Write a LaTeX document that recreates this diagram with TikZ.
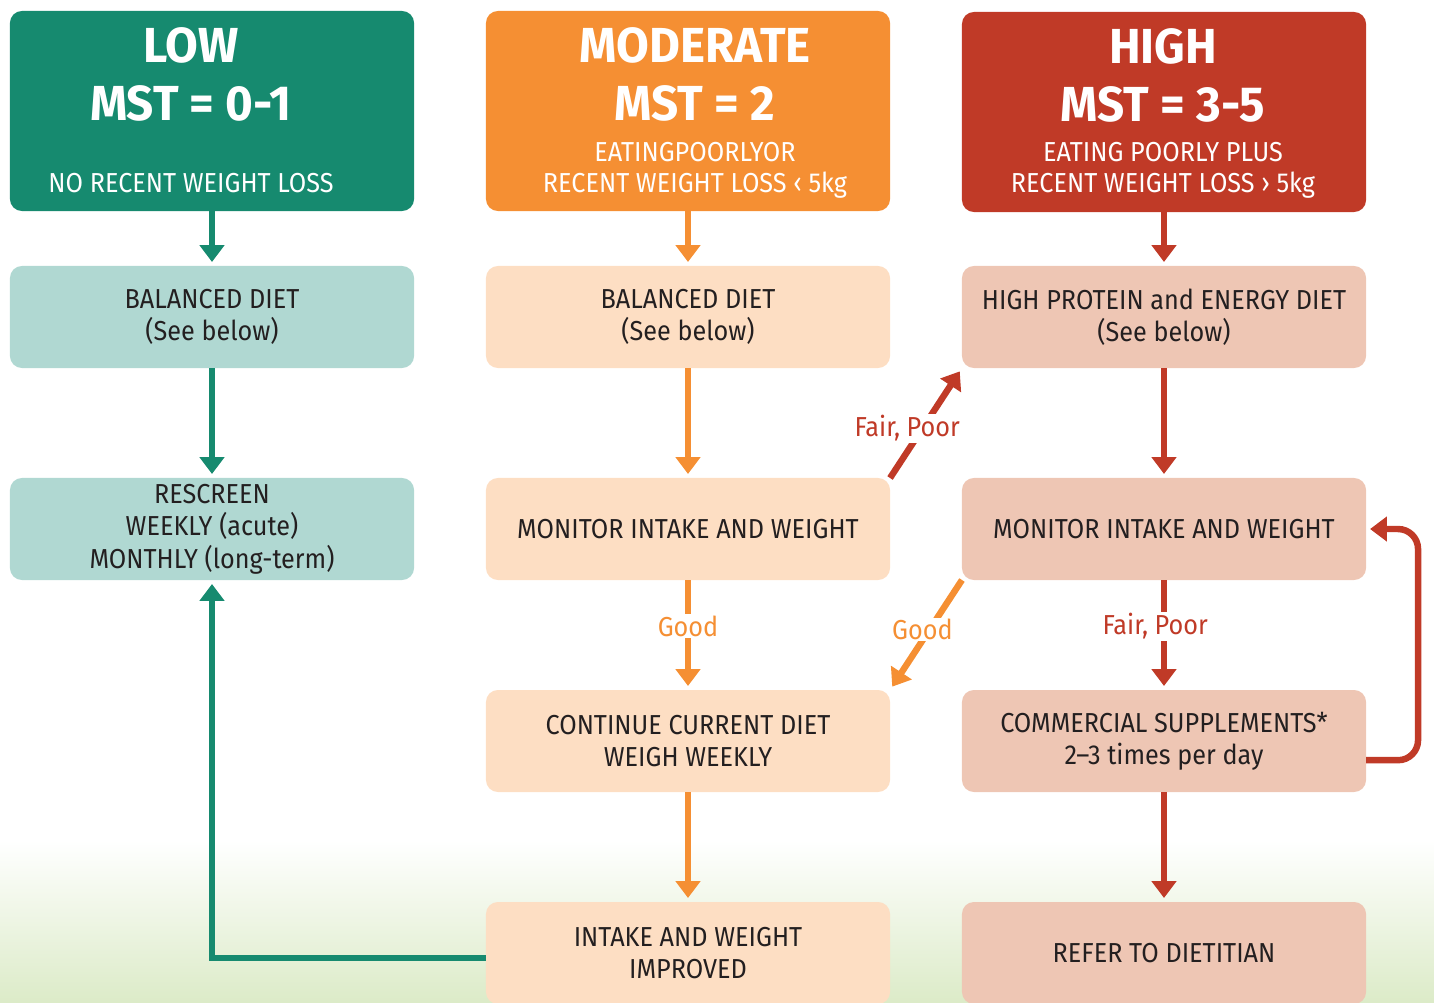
\documentclass[tikz,border=0pt]{standalone}
\usepackage{fontspec}
\setmainfont{Fira Sans}[FakeStretch=.92]
\newfontfamily\headfont{Fira Sans}[FakeStretch=.965]
\usetikzlibrary{arrows.meta, positioning}

\definecolor{lowDark}{HTML}{168A6F}
\definecolor{lowLight}{HTML}{B0D8D2}
\definecolor{modDark}{HTML}{F58F33}
\definecolor{modLight}{HTML}{FDDEC3}
\definecolor{highDark}{HTML}{C03A27}
\definecolor{highLight}{HTML}{EEC6B4}
\definecolor{inkText}{HTML}{231F20}
\definecolor{groundGreen}{HTML}{DCEBC8}

\begin{document}
\begin{tikzpicture}[x = .025cm, y = -.025cm, > = {Triangle[width=.6cm, length=.42cm]}, shorten > = .1cm, line width = 4.6pt,
    every node/.style = {font=\fontsize{19.5}{23}\selectfont, text=inkText, align=center, outer sep=0pt},
    head/.style = {rectangle, rounded corners=.3cm, minimum width=10.1cm, minimum height=5cm},
    box/.style = {rectangle, rounded corners=.3cm, minimum width=10.1cm, minimum height=2.55cm},
    big/.style = {font=\headfont\fontsize{35}{40}\selectfont\bfseries, text=white},
    sub/.style = {font=\fontsize{19.5}{22}\selectfont, text=white},
    lbl/.style = {fill=white, inner sep=1pt}]
    \useasboundingbox (0, 0) rectangle (1434, 1002);
    \shade[top color=white, bottom color=groundGreen] (0, 840) rectangle (1434, 1002);

    % headers
    \node[head, fill=lowDark] (lowHead) at (212, 111) {};
    \node[head, fill=modDark] (modHead) at (688, 111) {};
    \node[head, fill=highDark] (highHead) at (1164, 112) {};
    \node[big] (lowName) at (191, 45) {LOW};
    \node[big] (lowScore) at (191, 103) {MST = 0-1};
    \node[sub] (lowText) at (191, 183) {NO RECENT WEIGHT LOSS};
    \node[big] (modName) at (695, 45) {MODERATE};
    \node[big] (modScore) at (695, 103) {MST = 2};
    \node[sub] (modText) at (695, 170) {EATINGPOORLYOR\\RECENT WEIGHT LOSS ‹ 5kg};
    \node[big] (highName) at (1163, 46) {HIGH};
    \node[big] (highScore) at (1163, 104) {MST = 3-5};
    \node[sub] (highText) at (1163, 170) {EATING POORLY PLUS\\RECENT WEIGHT LOSS › 5kg};

    \node[box, fill=lowLight] (lowDiet) at (212, 317) {BALANCED DIET\\(See below)};
    \node[box, fill=lowLight] (lowRescreen) at (212, 529) {RESCREEN\\WEEKLY (acute)\\MONTHLY (long-term)};
    \node[box, fill=modLight] (modDiet) at (688, 317) {BALANCED DIET\\(See below)};
    \node[box, fill=modLight] (modMonitor) at (688, 529) {MONITOR INTAKE AND WEIGHT};
    \node[box, fill=modLight] (modContinue) at (688, 741) {CONTINUE CURRENT DIET\\WEIGH WEEKLY};
    \node[box, fill=modLight] (modImproved) at (688, 953) {INTAKE AND WEIGHT\\IMPROVED};
    \node[box, fill=highLight] (highDiet) at (1164, 317) {HIGH PROTEIN and ENERGY DIET\\(See below)};
    \node[box, fill=highLight] (highMonitor) at (1164, 529) {MONITOR INTAKE AND WEIGHT};
    \node[box, fill=highLight] (highSupp) at (1164, 741) {COMMERCIAL SUPPLEMENTS*\\2--3 times per day};
    \node[box, fill=highLight] (highRefer) at (1164, 953) {REFER TO DIETITIAN};

    \draw[->, lowDark] (lowHead) -- (lowDiet);
    \draw[->, lowDark] (lowDiet) -- (lowRescreen);
    \draw[->, lowDark] ([yshift=-.12cm]modImproved.west) -| (lowRescreen);

    \draw[->, modDark] (modHead) -- (modDiet);
    \draw[->, modDark] (modDiet) -- (modMonitor);
    \draw[->, modDark] (modMonitor) -- node[lbl, text=modDark, pos=.42] (modGood) {Good} (modContinue);
    \draw[->, modDark] (modContinue) -- (modImproved);

    \draw[->, highDark] (highHead) -- (highDiet);
    \draw[->, highDark] (highDiet) -- (highMonitor);
    \draw[->, highDark] (highMonitor) -- node[lbl, text=highDark, pos=.42, xshift=-.22cm] (highFair) {Fair, Poor} (highSupp);
    \draw[->, highDark] (highSupp) -- (highRefer);

    % cross links
    \draw[->, highDark] (modMonitor.north east) -- node[lbl, text=highDark, pos=.45, xshift=-.38cm] (crossFair) {Fair, Poor} (highDiet.south west);
    \draw[->, modDark] (highMonitor.south west) -- node[lbl, text=modDark, pos=.45, xshift=-.18cm] (crossGood) {Good} (modContinue.north east);
    \draw[->, highDark, rounded corners=.5cm] ([yshift=-.48cm]highSupp.east) -- ++(52, 0) |- (highMonitor.east);
\end{tikzpicture}
\end{document}
